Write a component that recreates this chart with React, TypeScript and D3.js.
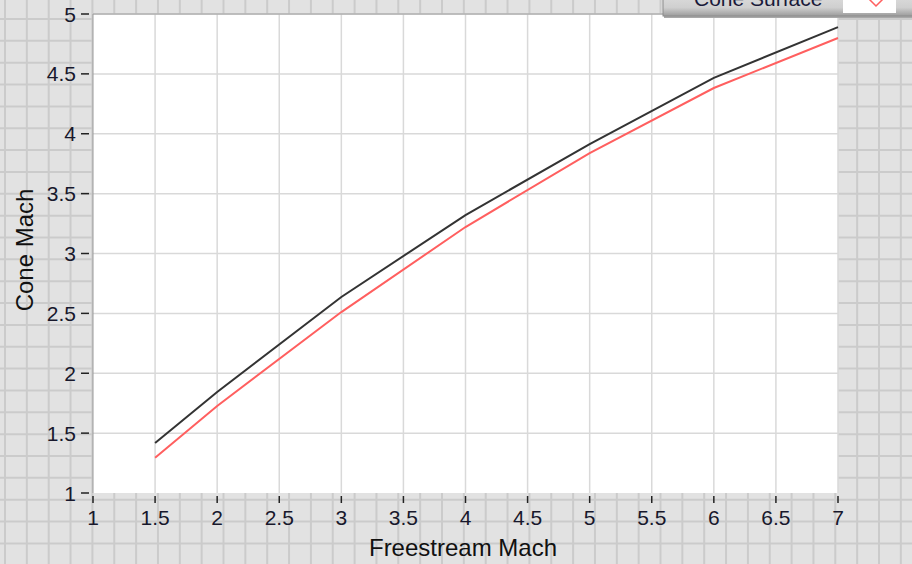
import React, { useEffect, useRef } from "react";
import * as d3 from "d3";

// freestream Mach values and the two curves
const freestreamMach = [1.5, 2, 3, 4, 5, 6, 7];
const upperMach = [1.418, 1.843, 2.637, 3.321, 3.914, 4.466, 4.891];
const coneSurfaceMach = [1.295, 1.727, 2.511, 3.221, 3.839, 4.382, 4.8];

const xTicks = [1, 1.5, 2, 2.5, 3, 3.5, 4, 4.5, 5, 5.5, 6, 6.5, 7];
const yTicks = [1, 1.5, 2, 2.5, 3, 3.5, 4, 4.5, 5];

const legendLabel = "Cone Surface";
const xTitle = "Freestream Mach";
const yTitle = "Cone Mach";

const App = () => {
  const svgRef = useRef<SVGSVGElement>(null);

  useEffect(() => {
    const width = 912;
    const height = 564;
    const plot = { left: 93, right: 838, top: 14, bottom: 493 };
    const font = "'Liberation Sans', Arial, sans-serif";
    const textColor = "#18182c";

    const svg = d3.select(svgRef.current);
    svg.selectAll("*").remove();

    // panel background with the LabVIEW style grid
    svg.append("rect").attr("width", width).attr("height", height).attr("fill", "#e2e2e2");
    const step = 21.85;
    const bg = svg.append("g").attr("stroke", "#cbcbcb").attr("stroke-width", 2);
    d3.range(5, width, step).forEach((x) => {
      bg.append("line").attr("x1", x).attr("x2", x).attr("y1", 0).attr("y2", height);
    });
    d3.range(19, height, step).forEach((y) => {
      bg.append("line").attr("x1", 0).attr("x2", width).attr("y1", y).attr("y2", y);
    });

    const x = d3.scaleLinear().domain([1, 7]).range([plot.left, plot.right]);
    const y = d3.scaleLinear().domain([1, 5]).range([plot.bottom, plot.top]);

    // plot area
    svg
      .append("rect")
      .attr("x", plot.left)
      .attr("y", plot.top)
      .attr("width", plot.right - plot.left)
      .attr("height", plot.bottom - plot.top)
      .attr("fill", "#ffffff");

    const grid = svg.append("g").attr("stroke", "#d9d9d9").attr("stroke-width", 1.5);
    xTicks.slice(1).forEach((t) => {
      grid
        .append("line")
        .attr("x1", x(t))
        .attr("x2", x(t))
        .attr("y1", plot.top)
        .attr("y2", plot.bottom);
    });
    yTicks.slice(1).forEach((t) => {
      grid
        .append("line")
        .attr("x1", plot.left)
        .attr("x2", plot.right)
        .attr("y1", y(t))
        .attr("y2", y(t));
    });

    // left and top edges of the plot
    svg
      .append("path")
      .attr("d", `M${plot.left},${plot.bottom}V${plot.top}H${plot.right}`)
      .attr("fill", "none")
      .attr("stroke", "#9a9a9a")
      .attr("stroke-width", 1);

    // curves
    const line = d3
      .line<number>()
      .x((_, i) => x(freestreamMach[i]))
      .y((d) => y(d));

    svg
      .append("path")
      .datum(upperMach)
      .attr("d", line)
      .attr("fill", "none")
      .attr("stroke", "#333333")
      .attr("stroke-width", 2);

    svg
      .append("path")
      .datum(coneSurfaceMach)
      .attr("d", line)
      .attr("fill", "none")
      .attr("stroke", "#ff5f5f")
      .attr("stroke-width", 2);

    // y axis ticks and labels
    const yAxis = svg.append("g");
    yTicks.forEach((t) => {
      yAxis
        .append("line")
        .attr("x1", 81)
        .attr("x2", 89)
        .attr("y1", y(t))
        .attr("y2", y(t))
        .attr("stroke", "#222")
        .attr("stroke-width", 1.5);
      yAxis
        .append("text")
        .attr("x", 76)
        .attr("y", y(t))
        .attr("dy", "0.36em")
        .attr("text-anchor", "end")
        .attr("font-family", font)
        .attr("font-size", 21)
        .attr("fill", textColor)
        .text(String(t));
    });

    // x axis ticks and labels
    const xAxis = svg.append("g");
    xTicks.forEach((t) => {
      xAxis
        .append("line")
        .attr("x1", x(t))
        .attr("x2", x(t))
        .attr("y1", 496)
        .attr("y2", 503)
        .attr("stroke", "#222")
        .attr("stroke-width", 1.5);
      xAxis
        .append("text")
        .attr("x", x(t))
        .attr("y", 525)
        .attr("text-anchor", "middle")
        .attr("font-family", font)
        .attr("font-size", 21)
        .attr("fill", textColor)
        .text(String(t));
    });

    // axis titles
    svg
      .append("text")
      .attr("x", 463)
      .attr("y", 556)
      .attr("text-anchor", "middle")
      .attr("font-family", font)
      .attr("font-size", 24)
      .attr("fill", "#111")
      .text(xTitle);

    svg
      .append("text")
      .attr("transform", `translate(33,250) rotate(-90)`)
      .attr("text-anchor", "middle")
      .attr("font-family", font)
      .attr("font-size", 24)
      .attr("fill", "#111")
      .text(yTitle);

    // legend, cut off at the top of the panel
    const defs = svg.append("defs");
    const grad = defs
      .append("linearGradient")
      .attr("id", "legendGrad")
      .attr("x1", 0)
      .attr("y1", 0)
      .attr("x2", 0)
      .attr("y2", 1);
    grad.append("stop").attr("offset", "0%").attr("stop-color", "#e4e4e4");
    grad.append("stop").attr("offset", "70%").attr("stop-color", "#cfcfcf");
    grad.append("stop").attr("offset", "100%").attr("stop-color", "#9c9c9c");

    const legend = svg.append("g");
    legend
      .append("rect")
      .attr("x", 664)
      .attr("y", -12)
      .attr("width", 260)
      .attr("height", 30)
      .attr("fill", "#a8a8a8");
    legend
      .append("rect")
      .attr("x", 663)
      .attr("y", -12)
      .attr("width", 260)
      .attr("height", 28)
      .attr("fill", "url(#legendGrad)")
      .attr("stroke", "#8c8c8c")
      .attr("stroke-width", 1);
    legend
      .append("text")
      .attr("x", 694)
      .attr("y", 6)
      .attr("font-family", font)
      .attr("font-size", 21)
      .attr("fill", "#1a1a3a")
      .text(legendLabel);
    legend
      .append("rect")
      .attr("x", 843)
      .attr("y", -5)
      .attr("width", 53)
      .attr("height", 18)
      .attr("fill", "#ffffff");
    legend
      .append("line")
      .attr("x1", 846)
      .attr("x2", 893)
      .attr("y1", -2)
      .attr("y2", -2)
      .attr("stroke", "#ff5f5f")
      .attr("stroke-width", 1.5);
    legend
      .append("path")
      .attr("d", "M876,-8L883,-1L876,6L869,-1Z")
      .attr("fill", "none")
      .attr("stroke", "#ff5f5f")
      .attr("stroke-width", 1.5);
  }, []);

  return (
    <div style={{ position: "absolute", left: 0, top: 0 }}>
      <svg ref={svgRef} width="912" height="564" style={{ display: "block" }}></svg>
    </div>
  );
};

export default App;
